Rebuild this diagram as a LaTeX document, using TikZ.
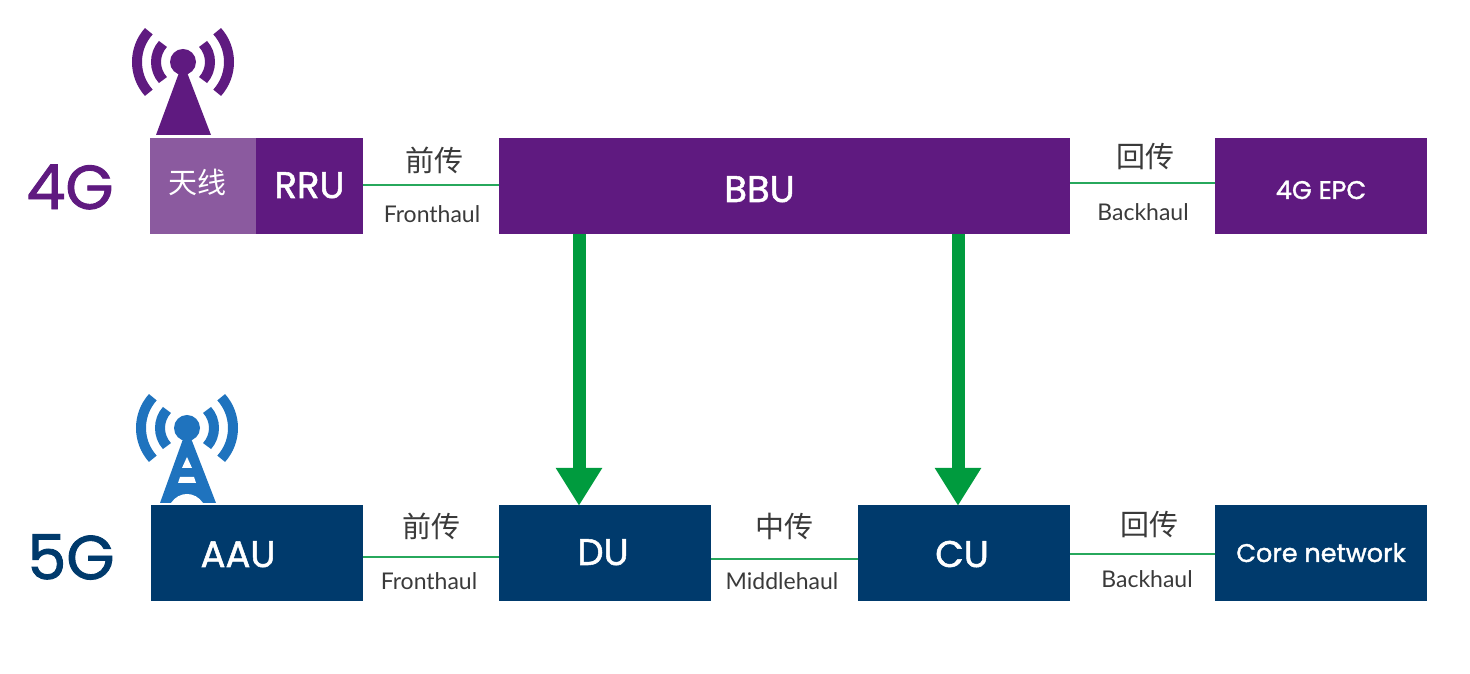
\documentclass[tikz,border=0pt]{standalone}
\usepackage{fontspec}
\setmainfont{Poppins}[FakeBold=1.4]
\newfontfamily\cjk{Noto Sans CJK SC}
\newfontfamily\latofont{Lato}
\usetikzlibrary{arrows.meta}
\definecolor{lte}{HTML}{5F1A80}
\definecolor{ltelight}{HTML}{8B5A9F}
\definecolor{nr}{HTML}{003A6C}
\definecolor{nrblue}{HTML}{1F73BE}
\definecolor{split}{HTML}{009B3E}
\definecolor{link}{HTML}{27A85C}
\definecolor{caption}{HTML}{3A3A3A}
\newcommand{\boxtext}[2]{\raisebox{-#1pt}[0pt][0pt]{#2}}
\tikzset{
	box/.style={inner sep=0pt,minimum height=96pt,text=white,font=\fontsize{37}{37}\selectfont},
	smallbox/.style={box,font=\fontsize{25.5}{25.5}\selectfont},
	gen/.style={inner sep=0pt,font=\fontsize{62}{62}\selectfont},
	cn/.style={inner sep=0pt,text=caption,font=\cjk\fontsize{29}{29}\selectfont},
	en/.style={inner sep=0pt,text=caption,font=\latofont\fontsize{23}{23}\selectfont},
	link/.style={draw=link,line width=2.5pt},
	splitarrow/.style={draw=split,line width=13pt,-{Triangle[width=44pt,length=38pt]},shorten >=-1pt}
}
\begin{document}
\begin{tikzpicture}[x=1pt,y=1pt]
	\useasboundingbox (0,0) rectangle (1470,674);
	% antennas
	\foreach \cx/\cy/\col in {183/612/lte,187/246/nrblue}{
		\foreach \r/\w in {46/10,27/10}{
			\draw[\col,line width=\w pt] (\cx,\cy) ++(138:\r) arc[start angle=138,end angle=222,radius=\r];
			\draw[\col,line width=\w pt] (\cx,\cy) ++(-42:\r) arc[start angle=-42,end angle=42,radius=\r];
		}
		\fill[\col] (\cx,\cy) circle (13);
	}
	\fill[lte] (183,612) -- (211,539) -- (156,539) -- cycle;
	\fill[nrblue] (187,246) -- (216,171) -- (160,171) -- cycle;
	\fill[white] (187,217) -- (192,206) -- (182,206) -- cycle;
	\fill[white] (180,197) -- (194,197) -- (196,191) -- (178,191) -- cycle;
	\fill[white] (171,171) .. controls (175,177) and (181,180) .. (187,180) .. controls (193,180) and (199,177) .. (203,171) -- cycle;
	% 4G row
	\node[box,fill=ltelight,minimum width=106pt,font=\cjk\fontsize{29}{29}\selectfont] (ant) at (203,488) {\boxtext{8}{天线}\hspace*{12pt}};
	\node[box,fill=lte,minimum width=107pt] (rru) at (309.5,488) {\boxtext{12}{RRU}};
	\node[box,fill=lte,minimum width=571pt] (bbu) at (784.5,488) {\boxtext{16}{BBU}\hspace*{50pt}};
	\node[smallbox,fill=lte,minimum width=212pt] (epc) at (1321,488) {\boxtext{13}{4G EPC}};
	\node[gen,text=lte] (lte) at (70,487) {4G};
	% 5G row
	\node[box,fill=nr,minimum width=212pt] (aau) at (257,121) {\boxtext{14}{AAU}\hspace*{38pt}};
	\node[box,fill=nr,minimum width=212pt] (du) at (605,121) {\boxtext{12}{DU}\hspace*{4pt}};
	\node[box,fill=nr,minimum width=212pt] (cu) at (964,121) {\boxtext{14}{CU}\hspace*{4pt}};
	\node[smallbox,fill=nr,minimum width=212pt] (core) at (1321,121) {\boxtext{9}{Core network}};
	\node[gen,text=nr] (nr) at (71,117) {5G};
	% links
	\draw[link] ([yshift=1pt]rru.east) -- ([yshift=1pt]bbu.west);
	\draw[link] ([yshift=3pt]bbu.east) -- ([yshift=3pt]epc.west);
	\draw[link] ([yshift=-4pt]aau.east) -- ([yshift=-4pt]du.west);
	\draw[link] ([yshift=-6pt]du.east) -- ([yshift=-6pt]cu.west);
	\draw[link] ([yshift=-1pt]cu.east) -- ([yshift=-1pt]core.west);
	% labels on the links
	\node[cn] (lteft) at (434,514) {前传};
	\node[en] (lteften) at (432,460) {Fronthaul};
	\node[cn] (ltebh) at (1145,517) {回传};
	\node[en] (ltebhen) at (1143,462) {Backhaul};
	\node[cn] (nrft) at (431,148) {前传};
	\node[en] (nrften) at (429,93) {Fronthaul};
	\node[cn] (nrmh) at (784,148) {中传};
	\node[en] (nrmhen) at (782,93) {Middlehaul};
	\node[cn] (nrbh) at (1149,149) {回传};
	\node[en] (nrbhen) at (1147,95) {Backhaul};
	% split of the BBU
	\draw[splitarrow] ([xshift=-26pt]du.north |- bbu.south) -- ([xshift=-26pt]du.north);
	\draw[splitarrow] ([xshift=-6pt]cu.north |- bbu.south) -- ([xshift=-6pt]cu.north);
\end{tikzpicture}
\end{document}
